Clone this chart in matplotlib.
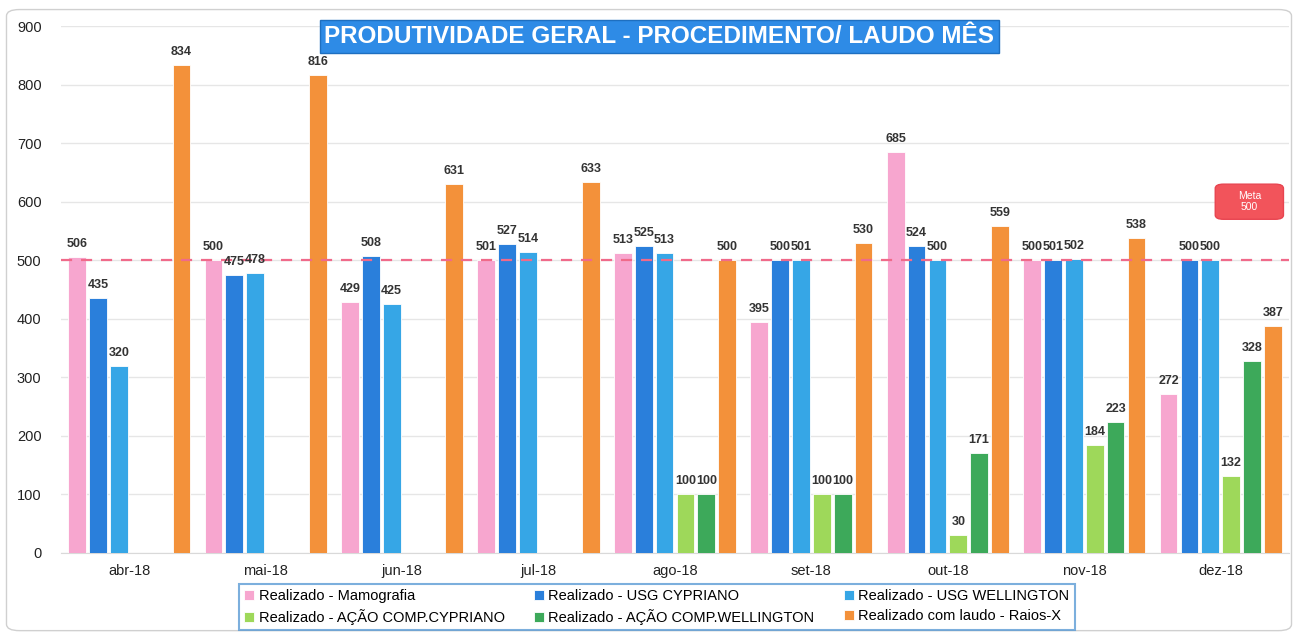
import numpy as np
import matplotlib
matplotlib.use('Agg')
import matplotlib.pyplot as plt
from matplotlib.patches import FancyBboxPatch

# data
meses = ['abr-18', 'mai-18', 'jun-18', 'jul-18', 'ago-18', 'set-18', 'out-18', 'nov-18', 'dez-18']
mamografia = [506, 500, 429, 501, 513, 395, 685, 500, 272]
usg_cypriano = [435, 475, 508, 527, 525, 500, 524, 501, 500]
usg_wellington = [320, 478, 425, 514, 513, 501, 500, 502, 500]
acao_cypriano = [0, 0, 0, 0, 100, 100, 30, 184, 132]
acao_wellington = [0, 0, 0, 0, 100, 100, 171, 223, 328]
raios_x = [834, 816, 631, 633, 500, 530, 559, 538, 387]
meta = 500

series = [mamografia, usg_cypriano, usg_wellington, acao_cypriano, acao_wellington, raios_x]
nomes = ['Realizado - Mamografia', 'Realizado - USG CYPRIANO', 'Realizado - USG WELLINGTON',
         'Realizado - AÇÃO COMP.CYPRIANO', 'Realizado - AÇÃO COMP.WELLINGTON',
         'Realizado com laudo - Raios-X']
cores = ['#F7A6CF', '#2A7FDB', '#36A6E6', '#9ED85A', '#3DA95A', '#F3913A']

plt.rcParams['font.family'] = ['Liberation Sans', 'DejaVu Sans']

fig = plt.figure(figsize=(12.98, 6.37), dpi=100)
ax = fig.add_axes([0.047, 0.132, 0.946, 0.827])

x = np.arange(len(meses))
slot = 0.153
larg = 0.13
for i, (vals, cor, nome) in enumerate(zip(series, cores, nomes)):
    pos = x + (i - 2.5) * slot
    ax.bar(pos, vals, width=larg, color=cor, edgecolor='#ffffff', linewidth=0.6, label=nome, zorder=3)
    for p, v in zip(pos, vals):
        if v == 0:
            continue
        ax.text(p, v + 12, str(v), ha='center', va='bottom', fontsize=9,
                color='#333333', fontweight='bold', zorder=5)

ax.axhline(meta, color='#F06A8A', linestyle=(0, (5, 4)), linewidth=1.6, zorder=4)

ax.set_xlim(-0.5, len(meses) - 0.5)
ax.set_ylim(0, 900)
ax.set_yticks(range(0, 901, 100))
ax.set_xticks(x)
ax.set_xticklabels(meses, fontsize=10.5, color='#222222')
ax.tick_params(axis='y', labelsize=10.5, colors='#222222', length=0, pad=14)
ax.tick_params(axis='x', length=0, pad=8)
ax.grid(axis='y', color='#E6E6E6', linewidth=1, zorder=0)
for s in ['top', 'right', 'left']:
    ax.spines[s].set_visible(False)
ax.spines['bottom'].set_color('#D9D9D9')

# title box
fig.text(0.508, 0.943, 'PRODUTIVIDADE GERAL - PROCEDIMENTO/ LAUDO MÊS', ha='center', va='center',
         fontsize=17.5, fontweight='bold', color='white', zorder=10,
         bbox=dict(boxstyle='square,pad=0.2', facecolor='#2E8BE6', edgecolor='#1E6FC0', linewidth=1))

# meta box
ax.add_patch(FancyBboxPatch((7.96, 570), 0.5, 60, boxstyle='round,pad=0,rounding_size=0.06',
                            mutation_aspect=120, facecolor='#F2545B', edgecolor='#E84450', zorder=6))
ax.text(8.21, 600, 'Meta\n500', ha='center', va='center', fontsize=7.5, color='white', zorder=7,
        linespacing=1.1)

handles, labels = ax.get_legend_handles_labels()
ordem = [0, 3, 1, 4, 2, 5]
leg = fig.legend([handles[k] for k in ordem], [labels[k] for k in ordem], ncol=3,
                 loc='center', bbox_to_anchor=(0.506, 0.047), fontsize=10.5, frameon=True,
                 fancybox=False, handlelength=0.7, handleheight=0.7, handletextpad=0.3,
                 columnspacing=2.0, labelspacing=0.45, borderpad=0.35)
leg.get_frame().set_edgecolor('#5B9BD5')
leg.get_frame().set_linewidth(1.5)

# outer frame
fig.patches.append(FancyBboxPatch((0.005, 0.01), 0.99, 0.975, boxstyle='round,pad=0,rounding_size=0.01',
                                  transform=fig.transFigure, fill=False, edgecolor='#D0D0D0', linewidth=1))

fig.savefig('out.png', dpi=100)
